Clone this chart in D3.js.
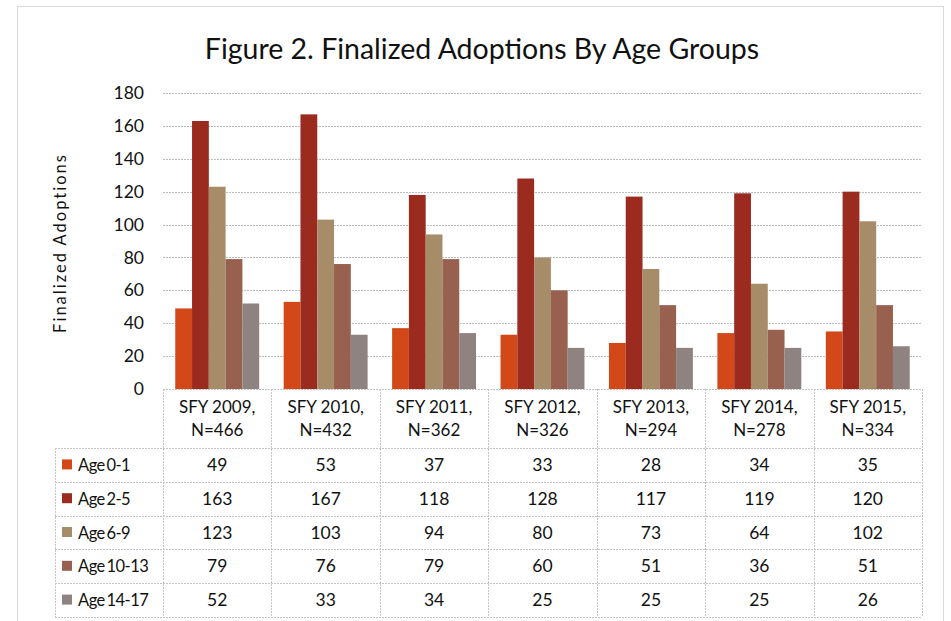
<!DOCTYPE html>
<html>
<head>
<meta charset="utf-8">
<script src="https://cdn.jsdelivr.net/npm/d3@7/dist/d3.min.js"></script>
<style>
  body { margin: 0; background: #fff; }
  text { font-family: Lato, "Open Sans", sans-serif; fill: #111; }
</style>
</head>
<body>
<div id="chart"></div>
<script>
// data
var categories = ["SFY 2009", "SFY 2010", "SFY 2011", "SFY 2012", "SFY 2013", "SFY 2014", "SFY 2015"];
var nValues = [466, 432, 362, 326, 294, 278, 334];
var seriesNames = ["Age 0-1", "Age 2-5", "Age 6-9", "Age 10-13", "Age 14-17"];
var age0to1 = [49, 53, 37, 33, 28, 34, 35];
var age2to5 = [163, 167, 118, 128, 117, 119, 120];
var age6to9 = [123, 103, 94, 80, 73, 64, 102];
var age10to13 = [79, 76, 79, 60, 51, 36, 51];
var age14to17 = [52, 33, 34, 25, 25, 25, 26];
var yTicks = [0, 20, 40, 60, 80, 100, 120, 140, 160, 180];
var colors = ["#d24818", "#9c2b1f", "#a68c69", "#98604f", "#8f8382"];

var seriesValues = [age0to1, age2to5, age6to9, age10to13, age14to17];

var svgWidth = 951, svgHeight = 621;
// plot area / table layout
var plotLeft = 163, plotRight = 922;
var plotTop = 93, plotBottom = 389;
var headerBottom = 448, rowH = 33.8;
var legendLeft = 55;

var svg = d3.select("#chart").append("svg")
  .attr("width", svgWidth)
  .attr("height", svgHeight);

// outer frame
svg.append("rect")
  .attr("x", 17.5).attr("y", 6.5)
  .attr("width", 926).attr("height", 640)
  .attr("fill", "none")
  .attr("stroke", "#d9d9d9");

svg.append("text")
  .attr("x", 482).attr("y", 59)
  .attr("text-anchor", "middle")
  .style("font-size", "28.5px")
  .text("Figure 2. Finalized Adoptions By Age Groups");

var x0 = d3.scaleBand().domain(categories).range([plotLeft, plotRight]).padding(0);
var x1 = d3.scaleBand().domain(seriesNames).range([0, x0.bandwidth()])
  .paddingInner(0).paddingOuter(0.73);
var y = d3.scaleLinear().domain([0, 180]).range([plotBottom, plotTop]);

// gridlines
svg.append("g")
  .selectAll("line")
  .data(yTicks.filter(d => d > 0))
  .join("line")
  .attr("x1", plotLeft).attr("x2", plotRight)
  .attr("y1", d => Math.round(y(d)) + 0.5)
  .attr("y2", d => Math.round(y(d)) + 0.5)
  .attr("stroke", "#bdbdbd")
  .attr("stroke-dasharray", "2,1");

// y axis labels
var yAxis = d3.axisLeft(y).tickValues(yTicks).tickSize(0).tickPadding(0);
var yg = svg.append("g")
  .attr("transform", "translate(144,0)")
  .call(yAxis);
yg.select(".domain").remove();
yg.selectAll("text")
  .style("font-size", "17.5px")
  .style("font-family", "Lato, sans-serif")
  .attr("fill", "#111");

svg.append("text")
  .attr("transform", "translate(66,243) rotate(-90)")
  .attr("text-anchor", "middle")
  .style("font-size", "16.5px")
  .style("letter-spacing", "2px")
  .text("Finalized Adoptions");

// bars
var groups = svg.append("g")
  .selectAll("g")
  .data(categories)
  .join("g")
  .attr("transform", d => `translate(${x0(d)},0)`);

groups.selectAll("rect")
  .data((d, i) => seriesNames.map((s, j) => ({ s: s, v: seriesValues[j][i], c: colors[j] })))
  .join("rect")
  .attr("x", d => x1(d.s))
  .attr("width", x1.bandwidth())
  .attr("y", d => y(d.v))
  .attr("height", d => y(0) - y(d.v))
  .attr("fill", d => d.c);

// data table
var grid = svg.append("g")
  .attr("stroke", "#c4c4c4")
  .attr("stroke-dasharray", "2,1")
  .attr("fill", "none");
var tableBottom = headerBottom + rowH * seriesNames.length;

// horizontal lines
grid.append("line")
  .attr("x1", plotLeft).attr("x2", plotRight)
  .attr("y1", plotBottom + 0.5).attr("y2", plotBottom + 0.5);
d3.range(seriesNames.length + 1).forEach(function (i) {
  var yy = Math.round(headerBottom + i * rowH) + 0.5;
  grid.append("line")
    .attr("x1", legendLeft).attr("x2", plotRight)
    .attr("y1", yy).attr("y2", yy);
});
// vertical lines
categories.concat(["end"]).forEach(function (c, i) {
  var xx = Math.round(i < categories.length ? x0(c) : plotRight) + 0.5;
  grid.append("line")
    .attr("x1", xx).attr("x2", xx)
    .attr("y1", plotBottom).attr("y2", tableBottom);
});
grid.append("line")
  .attr("x1", legendLeft + 0.5).attr("x2", legendLeft + 0.5)
  .attr("y1", headerBottom).attr("y2", tableBottom);

// header cells
var header = svg.append("g")
  .selectAll("text")
  .data(categories)
  .join("text")
  .attr("text-anchor", "middle")
  .style("font-size", "17px");
header.append("tspan")
  .attr("x", d => x0(d) + x0.bandwidth() / 2)
  .attr("y", 413)
  .text(d => d + ",");
header.append("tspan")
  .attr("x", d => x0(d) + x0.bandwidth() / 2)
  .attr("y", 436)
  .text((d, i) => "N=" + nValues[i]);

// rows
seriesNames.forEach(function (s, j) {
  var cy = headerBottom + j * rowH + rowH / 2;
  svg.append("rect")
    .attr("x", 62).attr("y", cy - 5.5)
    .attr("width", 10).attr("height", 10)
    .attr("fill", colors[j]);
  svg.append("text")
    .attr("x", 78).attr("y", cy + 6)
    .style("font-size", "16.5px")
    .style("letter-spacing", "-0.5px")
    .text(s.replace(" ", "\u2009"));
  svg.append("g")
    .selectAll("text")
    .data(seriesValues[j])
    .join("text")
    .attr("x", (d, i) => x0(categories[i]) + x0.bandwidth() / 2)
    .attr("y", cy + 6)
    .attr("text-anchor", "middle")
    .style("font-size", "17.5px")
    .text(d => d);
});
</script>
</body>
</html>
